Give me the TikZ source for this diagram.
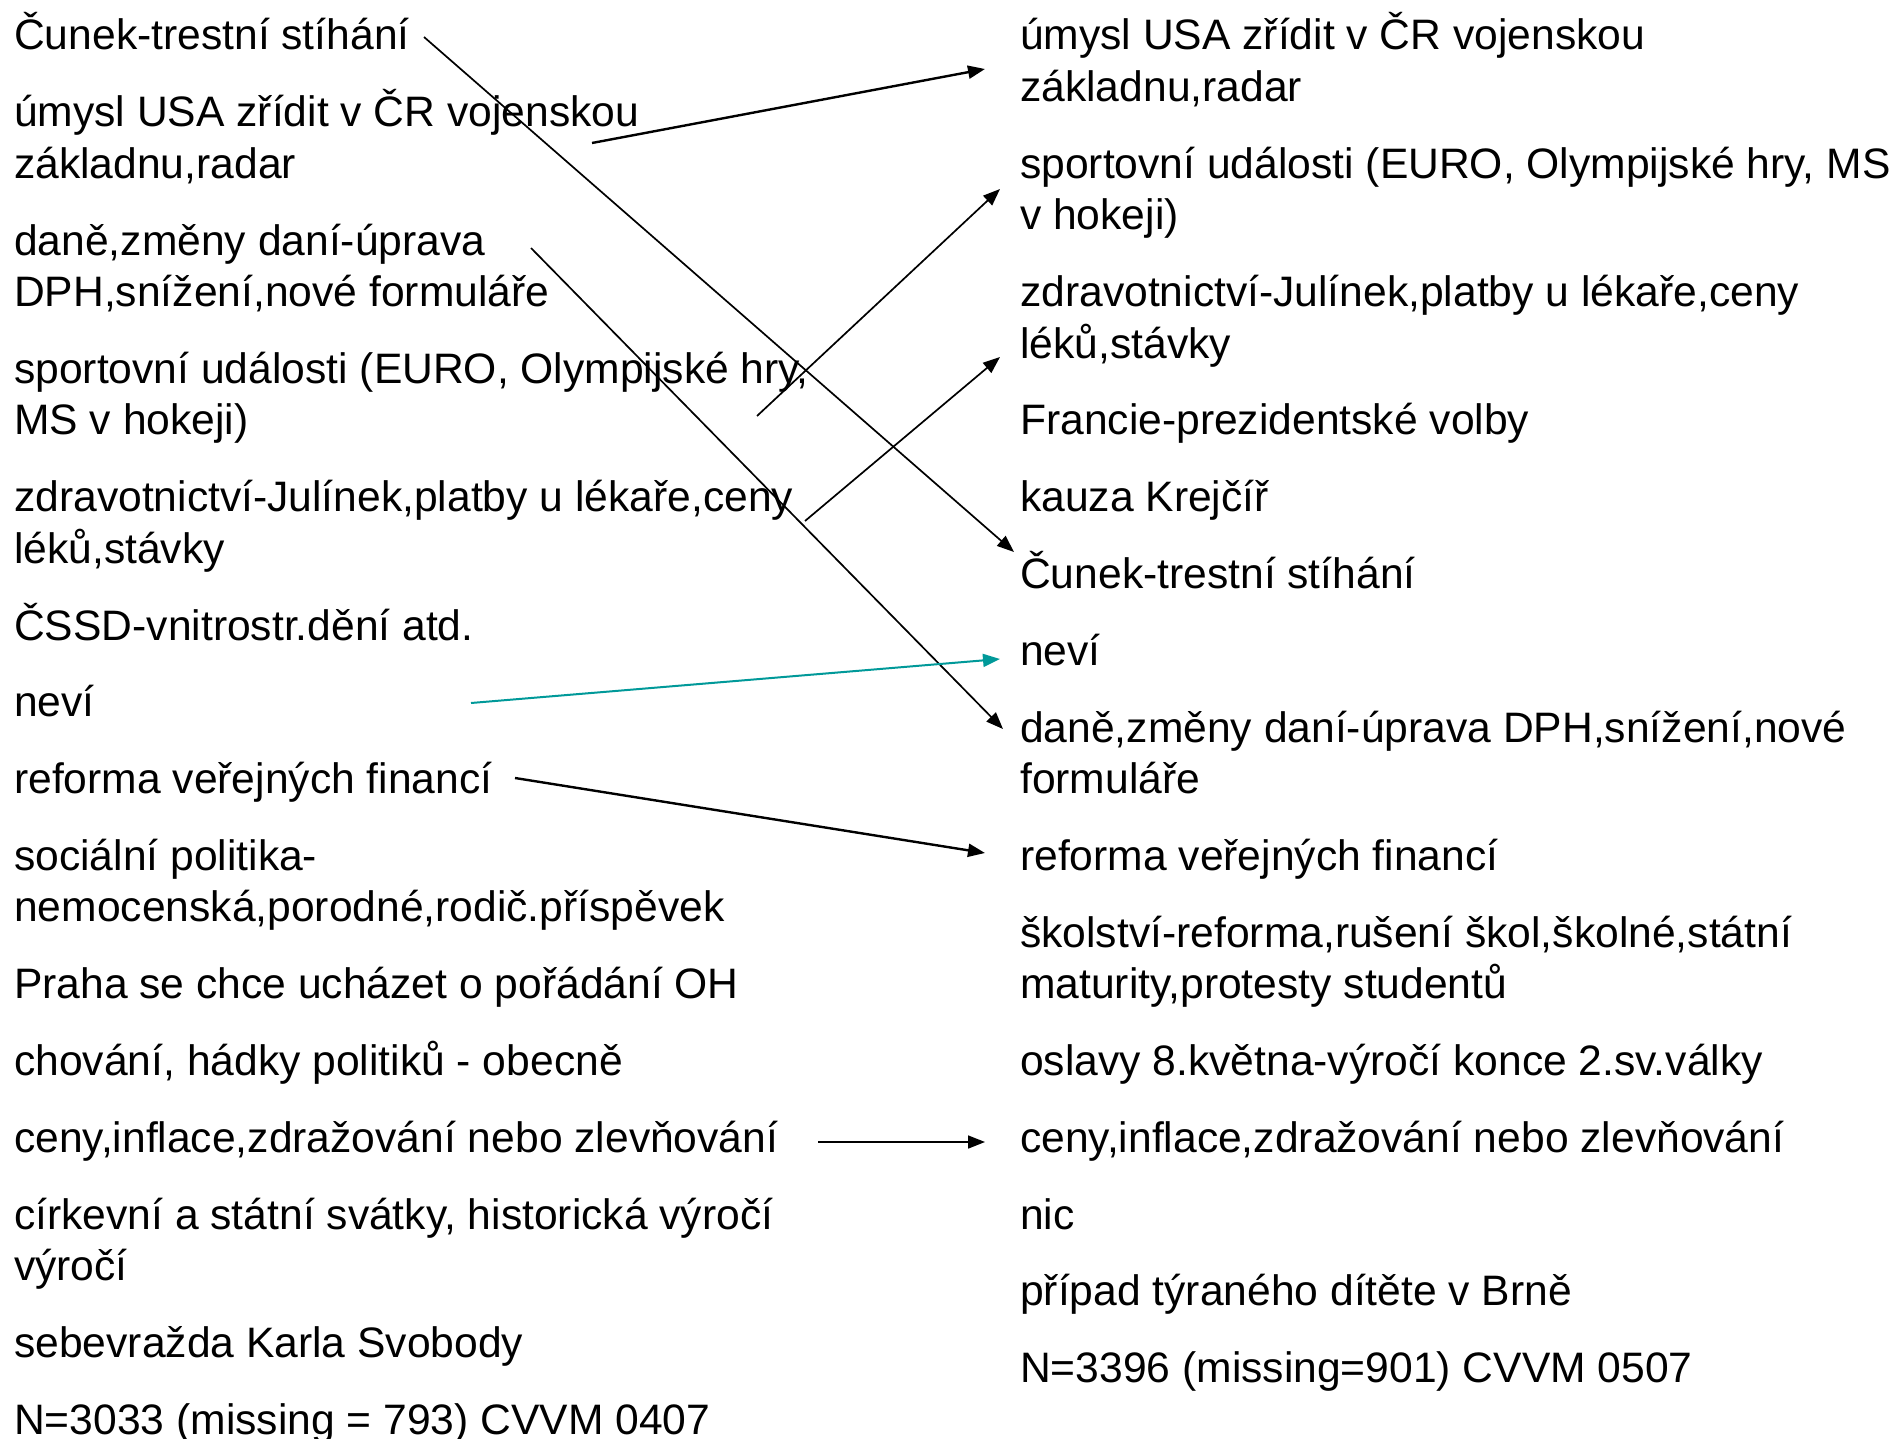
\documentclass[tikz,border=0pt]{standalone}
\usepackage{fontspec}
\setmainfont{Liberation Sans}
\usetikzlibrary{arrows.meta}
\definecolor{tealc}{RGB}{0,153,153}
\begin{document}
\begin{tikzpicture}[x=1pt,y=-1pt,
  lbl/.style={anchor=base west, inner sep=0pt, font=\fontsize{42.6}{51.5}\selectfont},
  conn/.style={line width=1.7pt, -{Triangle[length=17pt,width=13pt]}},
  connthick/.style={conn, line width=2.4pt},
  connteal/.style={conn, line width=2pt, draw=tealc, -{Triangle[length=17pt,width=13pt,fill=tealc]}}]
\fill[white] (0,0) rectangle (1898,1439);
\useasboundingbox (0,0) rectangle (1898,1439);
% left column
\node[lbl] (L1)  at (14,50)     {Čunek-trestní stíhání};
\node[lbl] (L2a) at (14,126.8)  {úmysl USA zřídit v ČR vojenskou};
\node[lbl] (L2b) at (14,178.3)  {základnu,radar};
\node[lbl] (L3a) at (14,255.1)  {daně,změny daní-úprava};
\node[lbl] (L3b) at (14,306.6)  {DPH,snížení,nové formuláře};
\node[lbl] (L4a) at (14,383.4)  {sportovní události (EURO, Olympijské hry,};
\node[lbl] (L4b) at (14,434.9)  {MS v hokeji)};
\node[lbl] (L5a) at (14,511.7)  {zdravotnictví-Julínek,platby u lékaře,ceny};
\node[lbl] (L5b) at (14,563.2)  {léků,stávky};
\node[lbl] (L6)  at (14,640.0)  {ČSSD-vnitrostr.dění atd.};
\node[lbl] (L7)  at (14,716.8)  {neví};
\node[lbl] (L8)  at (14,793.6)  {reforma veřejných financí};
\node[lbl] (L9a) at (14,870.4)  {sociální politika-};
\node[lbl] (L9b) at (14,921.9)  {nemocenská,porodné,rodič.příspěvek};
\node[lbl] (L10) at (14,998.7)  {Praha se chce ucházet o pořádání OH};
\node[lbl] (L11) at (14,1075.5) {chování, hádky politiků - obecně};
\node[lbl] (L12) at (14,1152.3) {ceny,inflace,zdražování nebo zlevňování};
\node[lbl] (L13a) at (14,1229.1) {církevní a státní svátky, historická výročí};
\node[lbl] (L13b) at (14,1280.6) {výročí};
\node[lbl] (L14) at (14,1357.4) {sebevražda Karla Svobody};
\node[lbl] (L15) at (14,1434.2) {N=3033 (missing = 793) CVVM 0407};
% right column
\node[lbl] (R1a) at (1020,50)     {úmysl USA zřídit v ČR vojenskou};
\node[lbl] (R1b) at (1020,101.5)  {základnu,radar};
\node[lbl] (R2a) at (1020,178.3)  {sportovní události (EURO, Olympijské hry, MS};
\node[lbl] (R2b) at (1020,229.8)  {v hokeji)};
\node[lbl] (R3a) at (1020,306.6)  {zdravotnictví-Julínek,platby u lékaře,ceny};
\node[lbl] (R3b) at (1020,358.1)  {léků,stávky};
\node[lbl] (R4)  at (1020,434.9)  {Francie-prezidentské volby};
\node[lbl] (R5)  at (1020,511.7)  {kauza Krejčíř};
\node[lbl] (R6)  at (1020,588.5)  {Čunek-trestní stíhání};
\node[lbl] (R7)  at (1020,665.3)  {neví};
\node[lbl] (R8a) at (1020,742.1)  {daně,změny daní-úprava DPH,snížení,nové};
\node[lbl] (R8b) at (1020,793.6)  {formuláře};
\node[lbl] (R9)  at (1020,870.4)  {reforma veřejných financí};
\node[lbl] (R10a) at (1020,947.2) {školství-reforma,rušení škol,školné,státní};
\node[lbl] (R10b) at (1020,998.7) {maturity,protesty studentů};
\node[lbl] (R11) at (1020,1075.5) {oslavy 8.května-výročí konce 2.sv.války};
\node[lbl] (R12) at (1020,1152.3) {ceny,inflace,zdražování nebo zlevňování};
\node[lbl] (R13) at (1020,1229.1) {nic};
\node[lbl] (R14) at (1020,1305.9) {případ týraného dítěte v Brně};
\node[lbl] (R15) at (1020,1382.7) {N=3396 (missing=901) CVVM 0507};
% connector end points
\coordinate (s1) at (424,37);   \coordinate (t1) at (1014,552);
\coordinate (s2) at (592,143);  \coordinate (t2) at (985,69);
\coordinate (s3) at (531,248);  \coordinate (t3) at (1003,729);
\coordinate (s4) at (757,416);  \coordinate (t4) at (1000,189);
\coordinate (s5) at (805,521);  \coordinate (t5) at (1000,357);
\coordinate (s6) at (471,703);  \coordinate (t6) at (1000,659);
\coordinate (s7) at (515,778);  \coordinate (t7) at (985,853);
\coordinate (s8) at (818,1142); \coordinate (t8) at (985,1142);
% connectors
\draw[conn] (s1) -- (t1);
\draw[connthick] (s2) -- (t2);
\draw[conn] (s3) -- (t3);
\draw[conn] (s4) -- (t4);
\draw[conn] (s5) -- (t5);
\draw[connteal] (s6) -- (t6);
\draw[connthick] (s7) -- (t7);
\draw[conn] (s8) -- (t8);
\end{tikzpicture}
\end{document}
